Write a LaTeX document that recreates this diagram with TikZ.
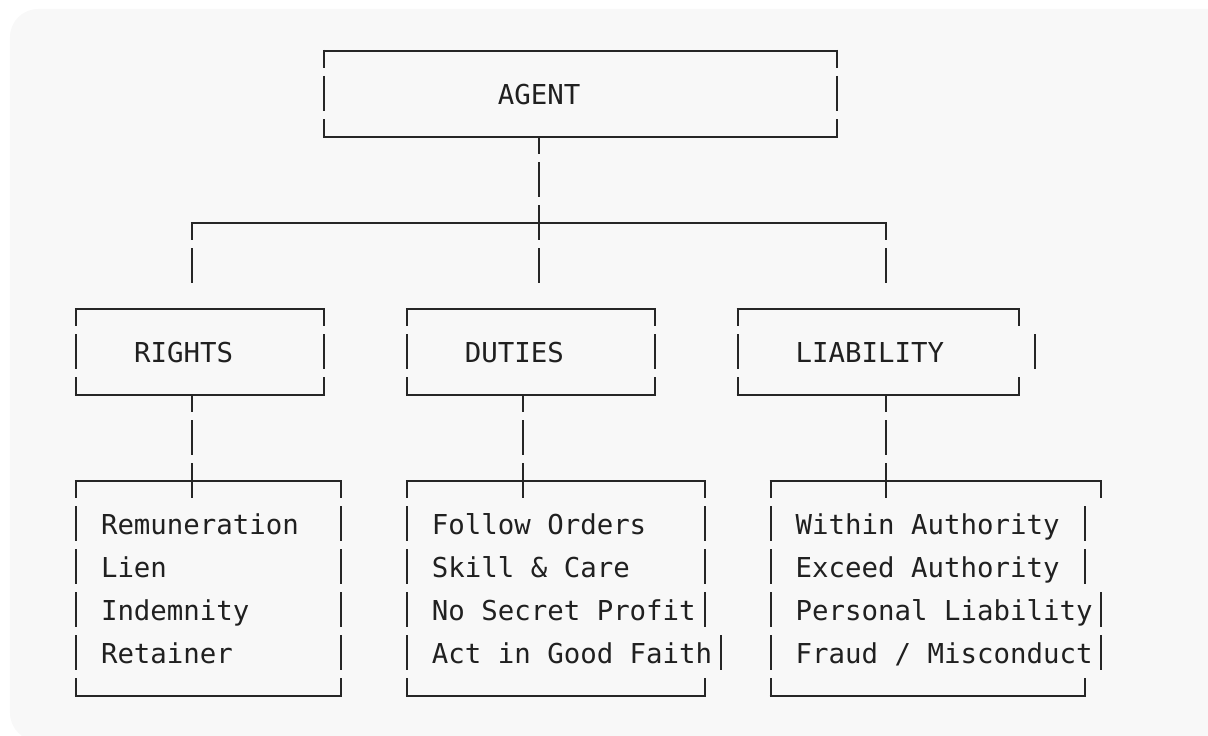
\documentclass[tikz,border=0pt]{standalone}
\usepackage{fontspec}
\setmonofont{DejaVu Sans Mono}
\definecolor{panel}{RGB}{248,248,248}
\definecolor{ink}{RGB}{38,38,38}
\definecolor{txtc}{RGB}{32,32,32}
\tikzset{
  rule/.style={draw=ink, line width=2pt, line cap=butt},
  lbl/.style={inner sep=0pt, anchor=base west, text=txtc,
    font=\ttfamily\fontsize{27.4}{30}\selectfont}
}
% vertical glyph pieces in a character cell (col #1, row #2)
\newcommand\vfull[2]{\draw[rule] ([yshift=18pt]#1,#2) -- ([yshift=-17pt]#1,#2);}
\newcommand\vdown[2]{\draw[rule] ([yshift=1pt]#1,#2) -- ([yshift=-17pt]#1,#2);}
\newcommand\vup[2]{\draw[rule] ([yshift=18pt]#1,#2) -- ([yshift=-1pt]#1,#2);}
\newcommand\hrow[3]{\draw[rule] ([xshift=-1pt]#1,#3) -- ([xshift=1pt]#2,#3);}
\newcommand\lbltext[4]{\node[lbl] (#1) at ([yshift=-10.5pt]#2-0.5,#3) {#4};}
\begin{document}
\begin{tikzpicture}[x=16.54pt, y=-43pt]
\useasboundingbox (-76pt,51pt) rectangle (1132pt,-685pt);
\fill[panel, rounded corners=28pt] (-66pt,42pt) rectangle (1170pt,-690pt);

% ---- AGENT box ----
\hrow{15}{46}{0} \vdown{15}{0} \vdown{46}{0}
\vfull{15}{1} \vfull{46}{1}
\hrow{15}{46}{2} \vup{15}{2} \vup{46}{2}
\lbltext{agent}{26}{1}{AGENT}

% ---- connector from AGENT to branch ----
\coordinate (agentStem) at (28,2);
\vdown{28}{2}
\vfull{28}{3}
\hrow{7}{49}{4} \vdown{7}{4} \vfull{28}{4} \vdown{49}{4}
\vfull{7}{5} \vfull{28}{5} \vfull{49}{5}

% ---- second level boxes ----
\hrow{0}{15}{6} \vdown{0}{6} \vdown{15}{6}
\hrow{20}{35}{6} \vdown{20}{6} \vdown{35}{6}
\hrow{40}{57}{6} \vdown{40}{6} \vdown{57}{6}
\vfull{0}{7} \vfull{15}{7}
\vfull{20}{7} \vfull{35}{7}
\vfull{40}{7} \vfull{58}{7}
\hrow{0}{15}{8} \vup{0}{8} \vup{15}{8} \vdown{7}{8}
\hrow{20}{35}{8} \vup{20}{8} \vup{35}{8} \vdown{27}{8}
\hrow{40}{57}{8} \vup{40}{8} \vup{57}{8} \vdown{49}{8}
\lbltext{rights}{4}{7}{RIGHTS}
\lbltext{duties}{24}{7}{DUTIES}
\lbltext{liab}{44}{7}{LIABILITY}

% ---- connectors to lists ----
\vfull{7}{9} \vfull{27}{9} \vfull{49}{9}

% ---- list boxes ----
\hrow{0}{16}{10} \vdown{0}{10} \vfull{7}{10} \vdown{16}{10}
\hrow{20}{38}{10} \vdown{20}{10} \vfull{27}{10} \vdown{38}{10}
\hrow{42}{62}{10} \vdown{42}{10} \vfull{49}{10} \vdown{62}{10}
\foreach \r in {11,...,14}{\vfull{0}{\r} \vfull{16}{\r} \vfull{20}{\r} \vfull{42}{\r}}
\vfull{38}{11} \vfull{38}{12} \vfull{38}{13} \vfull{39}{14}
\vfull{61}{11} \vfull{61}{12} \vfull{62}{13} \vfull{62}{14}
\hrow{0}{16}{15} \vup{0}{15} \vup{16}{15}
\hrow{20}{38}{15} \vup{20}{15} \vup{38}{15}
\hrow{42}{61}{15} \vup{42}{15} \vup{61}{15}

\lbltext{r1}{2}{11}{Remuneration}
\lbltext{r2}{2}{12}{Lien}
\lbltext{r3}{2}{13}{Indemnity}
\lbltext{r4}{2}{14}{Retainer}
\lbltext{d1}{22}{11}{Follow Orders}
\lbltext{d2}{22}{12}{Skill \& Care}
\lbltext{d3}{22}{13}{No Secret Profit}
\lbltext{d4}{22}{14}{Act in Good Faith}
\lbltext{l1}{44}{11}{Within Authority}
\lbltext{l2}{44}{12}{Exceed Authority}
\lbltext{l3}{44}{13}{Personal Liability}
\lbltext{l4}{44}{14}{Fraud / Misconduct}
\end{tikzpicture}
\end{document}
